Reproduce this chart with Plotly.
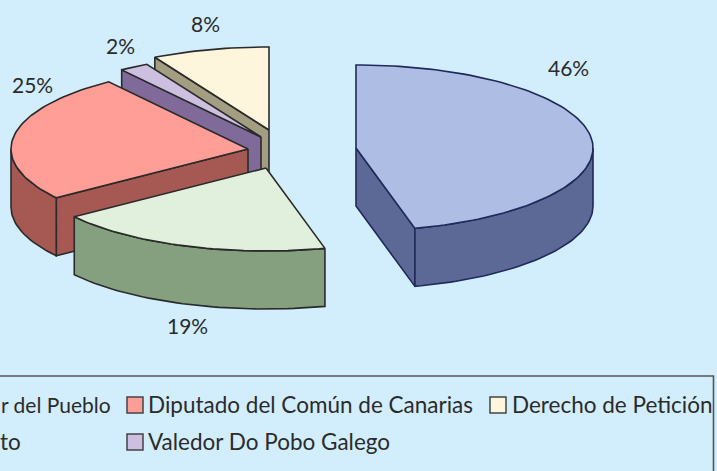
import math
import plotly.graph_objects as go

names = ["r del Pueblo", "to", "Diputado del Común de Canarias", "Valedor Do Pobo Galego", "Derecho de Petición"]
values = [46, 19, 25, 2, 8]
top_colors = ["#AEBDE3", "#E0F0DC", "#FF9E96", "#CDBFDF", "#FDF6DC"]
side_colors = ["#5C6896", "#84A07F", "#A65852", "#7F6A9A", "#A39E82"]
edge_colors = ["#1F2A5A", "#2A2A2A", "#2A2A2A", "#2A2A2A", "#2A2A2A"]
apex_x = [356, 266, 248, 261, 269]
apex_y = [148, 168, 149, 137, 130]
label_x = [568, 187, 32, 120, 205]
label_y = [67.5, 325.5, 84.5, 45.5, 23.5]
draw_order = [4, 3, 2, 1, 0]

RX, RY, DEPTH = 237, 83, 58
LINE = "#2A2A2A"
BG = "#D2EEFC"
TEXT = "#2B2B2B"
FONT = "Lato"

total = sum(values)
starts = []
acc = 0
for v in values:
    starts.append(acc)
    acc += v


def rim(cx, cy, frac):
    a = 2 * math.pi * frac
    return cx + RX * math.sin(a), cy - RY * math.cos(a)


def arc(cx, cy, f0, f1):
    n = max(2, int(abs(f1 - f0) * 240))
    return [rim(cx, cy, f0 + (f1 - f0) * i / n) for i in range(n + 1)]


fig = go.Figure()


def poly(pts, fill, edge=LINE, width=1.6):
    fig.add_trace(go.Scatter(
        x=[p[0] for p in pts] + [pts[0][0]],
        y=[p[1] for p in pts] + [pts[0][1]],
        mode="lines", fill="toself", fillcolor=fill,
        line=dict(color=edge, width=width), hoverinfo="skip", showlegend=False))


for i in draw_order:
    cx, cy = apex_x[i], apex_y[i]
    f0 = starts[i] / total
    f1 = (starts[i] + values[i]) / total
    # cut face that looks towards the viewer
    if f1 < 0.5:
        ex, ey = rim(cx, cy, f1)
        poly([(cx, cy), (ex, ey), (ex, ey + DEPTH), (cx, cy + DEPTH)], side_colors[i], edge_colors[i])
    elif f0 > 0.5:
        ex, ey = rim(cx, cy, f0)
        poly([(cx, cy), (ex, ey), (ex, ey + DEPTH), (cx, cy + DEPTH)], side_colors[i], edge_colors[i])
    # outer wall: only the part of the rim facing the viewer (between 1/4 and 3/4 turn)
    w0, w1 = max(f0, 0.25), min(f1, 0.75)
    if w1 > w0:
        upper = arc(cx, cy, w0, w1)
        lower = [(x, y + DEPTH) for x, y in reversed(upper)]
        poly(upper + lower, side_colors[i], edge_colors[i])
    # top face
    poly([(cx, cy)] + arc(cx, cy, f0, f1), top_colors[i], edge_colors[i])

annotations = []
for v, x, y in zip(values, label_x, label_y):
    annotations.append(dict(x=x, y=y, text=f"{v}%", showarrow=False, xanchor="center", yanchor="middle",
                            font=dict(family=FONT, size=21, color=TEXT)))

legend_text = [(113, 404, "right", 0, 21, 0), (0, 441, "left", 1, 22.5, -2), (146, 404, "left", 2, 22.5, 0),
               (146, 441, "left", 3, 22.5, 0), (510, 404, "left", 4, 22.5, 0)]
for x, y, anchor, i, size, shift in legend_text:
    annotations.append(dict(x=x, y=y, xshift=shift, text=names[i], showarrow=False, xanchor=anchor, yanchor="middle",
                            font=dict(family=FONT, size=size, color=TEXT)))

sw = [(135, 405, 2), (135, 442, 3), (498, 405, 4)]
fig.add_trace(go.Scatter(
    x=[s[0] for s in sw], y=[s[1] for s in sw], mode="markers",
    marker=dict(symbol="square", size=16, color=[top_colors[s[2]] for s in sw],
                line=dict(color="#444444", width=1.5)),
    hoverinfo="skip", showlegend=False))

fig.update_layout(
    width=717, height=471, autosize=False,
    margin=dict(l=0, r=0, t=0, b=0),
    paper_bgcolor=BG, plot_bgcolor=BG, showlegend=False,
    xaxis=dict(range=[0, 717], visible=False, fixedrange=True),
    yaxis=dict(range=[471, 0], visible=False, fixedrange=True),
    annotations=annotations,
    shapes=[dict(type="rect", x0=-6, x1=713.5, y0=376, y1=480, line=dict(color="#555555", width=1.6), fillcolor="rgba(0,0,0,0)", layer="below")],
)
post = """
document.body.style.margin='0';
document.body.style.overflow='hidden';
document.body.style.background='%s';
""" % BG
fig.write_html("out.html", config=dict(displayModeBar=False), post_script=post)
